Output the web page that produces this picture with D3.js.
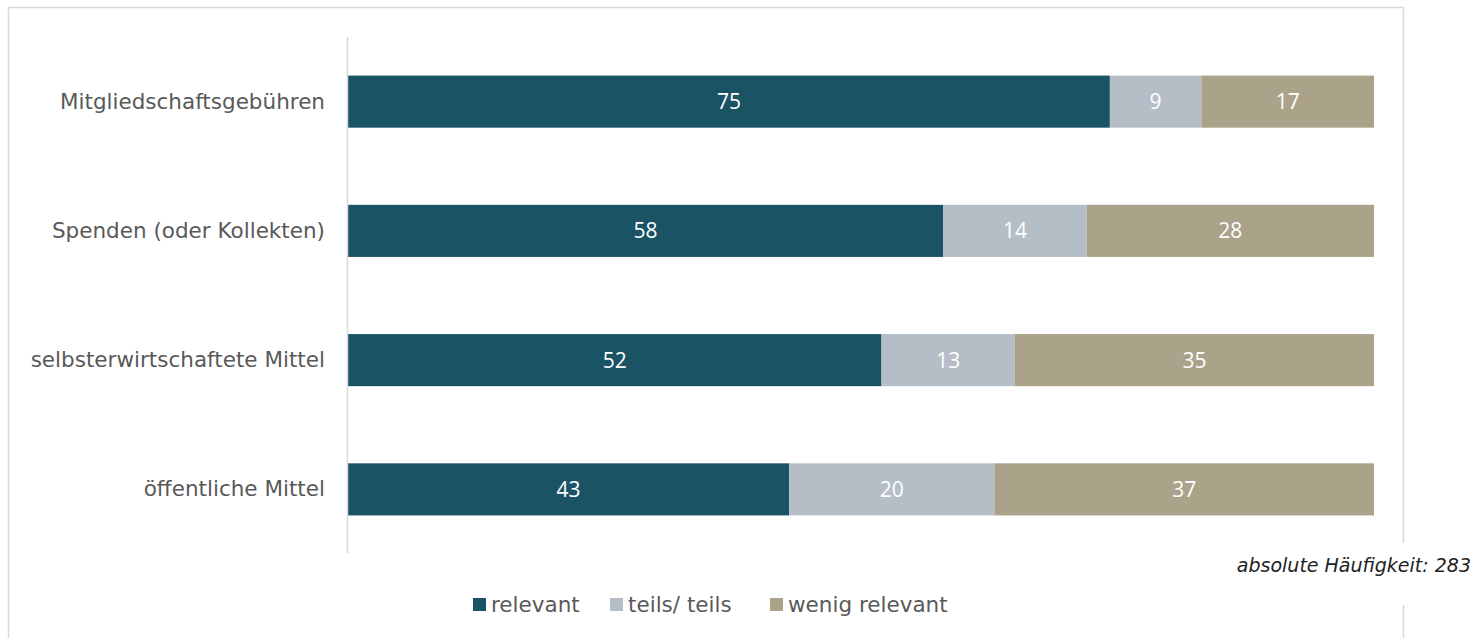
<!DOCTYPE html>
<html>
<head>
<meta charset="utf-8">
<script src="https://cdn.jsdelivr.net/npm/d3@7"></script>
<style>
  body { margin: 0; background: #fff; }
  svg { display: block; font-family: "DejaVu Sans", sans-serif; }
</style>
</head>
<body>
<div id="container"></div>
<script>
const categories = ["Mitgliedschaftsgebühren", "Spenden (oder Kollekten)", "selbsterwirtschaftete Mittel", "öffentliche Mittel"]
const seriesNames = ["relevant", "teils/ teils", "wenig relevant"]
const relevant = [75, 58, 52, 43]
const teils = [9, 14, 13, 20]
const wenig = [17, 28, 35, 37]
const colors = ["#1a5364", "#b5bec6", "#aba389"]
const note = "absolute Häufigkeit: 283"

const width = 1474
const height = 638
const margin = {top: 37, bottom: 85, left: 347, right: 100}

const rows = categories.map((c, i) => ({cat: c, "relevant": relevant[i], "teils/ teils": teils[i], "wenig relevant": wenig[i]}))

const stack = d3.stack().keys(seriesNames).offset(d3.stackOffsetExpand)
const series = stack(rows)

const svg = d3.create("svg")
    .attr("width", width)
    .attr("height", height)

// outer frame, right edge broken around the note
const frame = svg.append("g").attr("stroke", "#d9d9d9").attr("stroke-width", 1.5).attr("fill", "none")
frame.append("path").attr("d", `M8.5,${height} V7.5 H1403.5 V543`)
frame.append("path").attr("d", `M1403.5,605 V${height}`)

const y = d3.scaleBand()
    .domain(categories)
    .range([margin.top, height - margin.bottom + 1])
    .paddingInner(0.597)
    .paddingOuter(0.2985)

const x = d3.scaleLinear()
    .domain([0, 1])
    .range([margin.left + 1, 1374])

const color = d3.scaleOrdinal().domain(seriesNames).range(colors)

const groups = svg.append("g")
    .selectAll("g")
    .data(series)
    .enter().append("g")
    .attr("fill", d => color(d.key))

groups.selectAll("rect")
    .data(d => d)
    .enter().append("rect")
    .attr("x", d => x(d[0]))
    .attr("y", d => y(d.data.cat))
    .attr("width", d => x(d[1]) - x(d[0]))
    .attr("height", y.bandwidth())

groups.each(function(s) {
    d3.select(this).selectAll("text")
        .data(s)
        .enter().append("text")
        .attr("x", d => (x(d[0]) + x(d[1])) / 2)
        .attr("y", d => y(d.data.cat) + y.bandwidth() / 2)
        .attr("dy", "0.36em")
        .attr("text-anchor", "middle")
        .attr("fill", "#fff")
        .style("font-family", "'Open Sans', sans-serif")
        .style("font-size", "21px")
        .text(d => d.data[s.key])
})

// y axis
const yAxis = svg.append("g")
    .attr("transform", `translate(${margin.left}, 0)`)
    .call(d3.axisLeft(y).tickSize(0).tickPadding(22))
yAxis.select(".domain").attr("stroke", "#d9d9d9").attr("stroke-width", 1.5)
    .attr("d", `M0.5,${margin.top}V${height - margin.bottom}`)
yAxis.selectAll("text")
    .style("font-size", "21.5px")
    .style("font-family", "'DejaVu Sans', sans-serif")
    .attr("fill", "#595959")

svg.append("text")
    .attr("x", 1471)
    .attr("y", 572)
    .attr("text-anchor", "end")
    .style("font-style", "italic")
    .style("font-size", "19px")
    .style("font-family", "'DejaVu Sans', sans-serif")
    .attr("fill", "#222")
    .text(note)

// legend
const legendX = [473, 610, 770]
const legend = svg.append("g")
    .selectAll("g")
    .data(seriesNames)
    .enter().append("g")
    .attr("transform", (d, i) => `translate(${legendX[i]}, 598)`)
legend.append("rect")
    .attr("width", 13)
    .attr("height", 13)
    .attr("fill", d => color(d))
legend.append("text")
    .attr("x", 18)
    .attr("y", 6.5)
    .attr("dy", "0.36em")
    .attr("fill", "#595959")
    .style("font-size", "21.5px")
    .style("font-family", "'DejaVu Sans', sans-serif")
    .text(d => d)

document.querySelector("#container").appendChild(svg.node())
</script>
</body>
</html>
